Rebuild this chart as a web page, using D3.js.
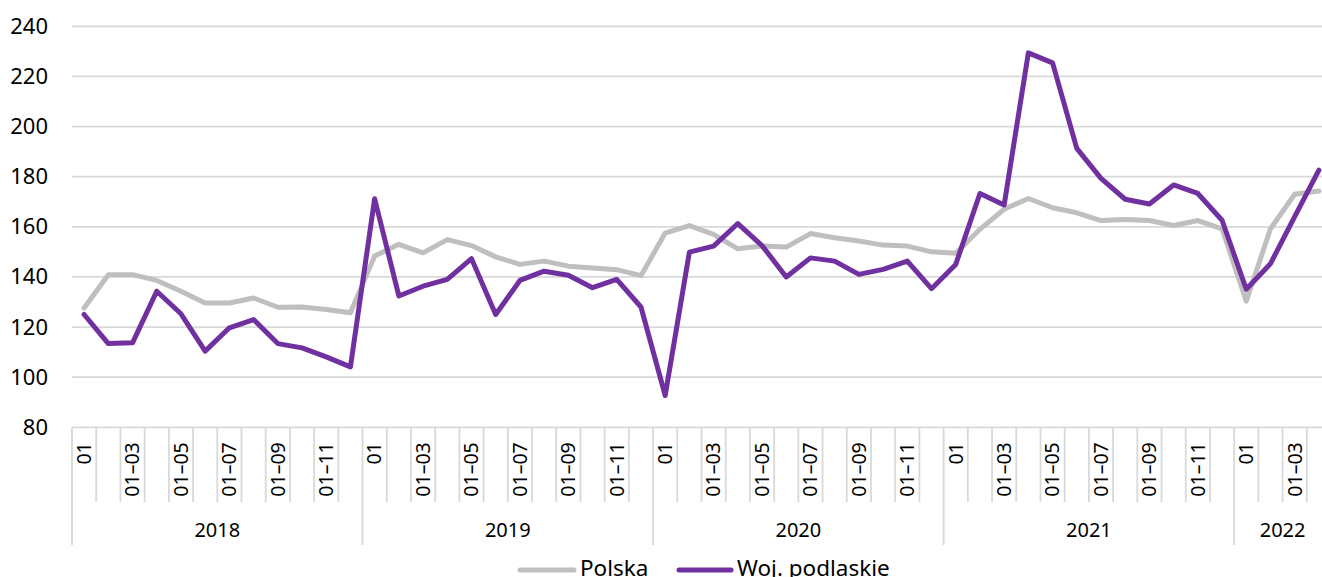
<!DOCTYPE html>
<html>
<head>
<meta charset="utf-8">
<script src="https://cdn.jsdelivr.net/npm/d3@7"></script>
<style>
  html, body { margin: 0; padding: 0; background: #fff; overflow: hidden; }
  svg { display: block; font-family: "Noto Sans", sans-serif; }
</style>
</head>
<body>
<div id="container"></div>
<script>
// chart data
const years = ["2018", "2019", "2020", "2021", "2022"];
const monthsPerYear = [12, 12, 12, 12, 4];
const monthLabels = ["01", "", "01–03", "", "01–05", "", "01–07", "", "01–09", "", "01–11", ""];
const yTicks = [80, 100, 120, 140, 160, 180, 200, 220, 240];

const polska = [
  127.6, 140.9, 140.9, 138.6, 134.3, 129.6, 129.6, 131.6, 127.9, 128, 127, 125.7,
  148.3, 153, 149.6, 154.9, 152.5, 148, 145, 146.3, 144.3, 143.6, 142.9, 140.5,
  157.5, 160.5, 157, 151.2, 152.3, 151.9, 157.3, 155.6, 154.3, 152.7, 152.3, 150,
  149.4, 159, 167, 171.3, 167.6, 165.6, 162.5, 162.9, 162.5, 160.5, 162.5, 159.2,
  130.3, 159.2, 173, 174.3
];
const podlaskie = [
  125, 113.4, 113.7, 134.3, 125.3, 110.4, 119.7, 123, 113.4, 111.7, 108.1, 104.1,
  171.2, 132.4, 136.3, 139, 147.3, 125, 138.6, 142.3, 140.7, 135.7, 139, 128,
  92.7, 149.9, 152.3, 161.3, 152.5, 140, 147.6, 146.3, 141, 143, 146.3, 135.3,
  145, 173.3, 168.7, 229.4, 225.4, 191.3, 179.3, 171, 169.1, 176.7, 173.3, 162.6,
  135.1, 145.3, 164.1, 182.6
];

const seriesNames = ["Polska", "Woj. podlaskie"];
const colors = ["#bfbfbf", "#7030a0"];

// build month categories
const categories = [];
years.forEach((yr, yi) => {
  for (let m = 0; m < monthsPerYear[yi]; m++) {
    categories.push({ year: yr, label: monthLabels[m], first: m === 0 });
  }
});

const W = 1322, H = 577;
const plotLeft = 72, plotRight = 1331;
const plotTop = 26.3, plotBottom = 427.3;

const svg = d3.select("#container").append("svg")
  .attr("width", W)
  .attr("height", H);

const x = d3.scaleBand()
  .domain(d3.range(categories.length))
  .range([plotLeft, plotRight])
  .padding(0);

const y = d3.scaleLinear()
  .domain([80, 240])
  .range([plotBottom, plotTop]);

const gridColor = "#d9d9d9";

// gridlines
svg.append("g")
  .selectAll("line")
  .data(yTicks)
  .join("line")
  .attr("x1", plotLeft)
  .attr("x2", W)
  .attr("y1", d => y(d))
  .attr("y2", d => y(d))
  .attr("stroke", gridColor)
  .attr("stroke-width", 1.8);

// y axis labels
const yAxis = svg.append("g")
  .attr("transform", `translate(${plotLeft},0)`)
  .call(d3.axisLeft(y).tickValues(yTicks).tickSize(0).tickPadding(24));
yAxis.select(".domain").remove();
yAxis.selectAll("text")
  .style("font-size", "22px")
  .style("font-family", "'Noto Sans', sans-serif")
  .attr("fill", "#000");

// category boundaries
const step = x.step();
svg.append("g")
  .selectAll("line")
  .data(d3.range(categories.length + 1))
  .join("line")
  .attr("x1", i => plotLeft + i * step)
  .attr("x2", i => plotLeft + i * step)
  .attr("y1", plotBottom)
  .attr("y2", i => (i === categories.length || (categories[i] && categories[i].first)) ? 545 : 502)
  .attr("stroke", gridColor)
  .attr("stroke-width", 1.8);

// month labels
const xAxis = svg.append("g")
  .attr("transform", `translate(0,${plotBottom})`)
  .call(d3.axisBottom(x).tickSize(0).tickFormat(i => categories[i].label));
xAxis.select(".domain").remove();
xAxis.selectAll("text")
  .attr("transform", "rotate(-90)")
  .attr("x", -15)
  .attr("y", 0)
  .attr("dy", "0.35em")
  .attr("text-anchor", "end")
  .style("font-size", "19.5px")
  .style("font-family", "'Noto Sans', sans-serif")
  .attr("fill", "#000");

// year labels
let start = 0;
years.forEach((yr, yi) => {
  const n = monthsPerYear[yi];
  const cx = (x(start) + x(start + n - 1) + step) / 2;
  svg.append("text")
    .attr("x", cx)
    .attr("y", 537)
    .attr("text-anchor", "middle")
    .style("font-size", "20px")
    .attr("fill", "#000")
    .text(yr);
  start += n;
});

// lines
const line = d3.line()
  .x((d, i) => x(i) + step / 2)
  .y(d => y(d));

[polska, podlaskie].forEach((series, si) => {
  svg.append("path")
    .datum(series)
    .attr("fill", "none")
    .attr("stroke", colors[si])
    .attr("stroke-width", 5)
    .attr("stroke-linejoin", "round")
    .attr("stroke-linecap", "round")
    .attr("d", line);
});

// legend
const legendPos = [{ x1: 520, x2: 574, tx: 580 }, { x1: 679, x2: 731, tx: 737 }];
seriesNames.forEach((name, i) => {
  const p = legendPos[i];
  svg.append("line")
    .attr("x1", p.x1)
    .attr("x2", p.x2)
    .attr("y1", 570)
    .attr("y2", 570)
    .attr("stroke", colors[i])
    .attr("stroke-width", 5)
    .attr("stroke-linecap", "round");
  svg.append("text")
    .attr("x", p.tx)
    .attr("y", 576)
    .style("font-size", "22.5px")
    .attr("fill", "#000")
    .text(name);
});
</script>
</body>
</html>
